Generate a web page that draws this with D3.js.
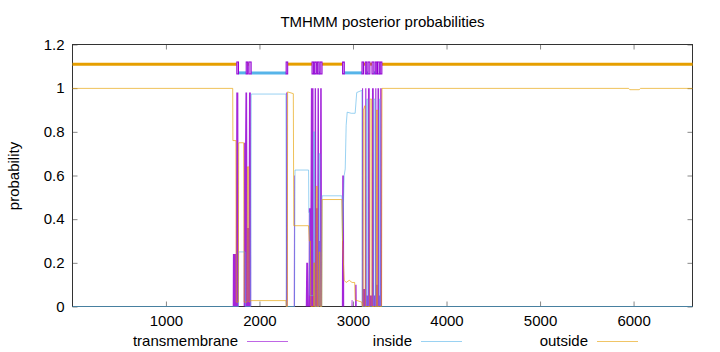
<!DOCTYPE html>
<html>
<head>
<meta charset="utf-8">
<script src="https://cdn.jsdelivr.net/npm/d3@7"></script>
<style>
body { margin: 0; background: #fff; }
svg { font-family: "Liberation Sans", Arial, sans-serif; }
</style>
</head>
<body>
<svg id="chart" width="720" height="352"></svg>
<script>
// Sequence length and ticks
const seqLength = 6630;
const xTicks = [1000, 2000, 3000, 4000, 5000, 6000];
const yTicks = [0, 0.2, 0.4, 0.6, 0.8, 1, 1.2];
const yTickLabels = ["0", "0.2", "0.4", "0.6", "0.8", "1", "1.2"];

// Posterior probabilities, read as breakpoints (residue, probability)
const tmPos = [1, 1714, 1716, 1748, 1752, 1774, 1778, 1831, 1836, 1846, 1850, 1868, 1872, 1884, 1888, 1908, 1912,
  2283, 2286, 2298, 2301, 2367, 2370, 2377, 2380, 2495, 2500, 2520, 2525, 2528, 2545, 2550, 2578, 2581, 2587, 2590,
  2605, 2608, 2618, 2621, 2636, 2639, 2646, 2649, 2666, 2669, 2881, 2885, 2903, 2906, 2984, 2986, 2994, 2996,
  3022, 3024, 3038, 3040, 3095, 3097, 3108, 3111, 3128, 3131, 3143, 3146, 3158, 3160, 3179, 3182, 3200, 3203,
  3222, 3225, 3236, 3238, 3250, 3253, 3260, 3262, 3279, 3282, 3289, 3291, 3307, 3310, 6630];
const tmVal = [0, 0, 0.24, 0.24, 0.98, 0.98, 0, 0, 0.75, 0.75, 0.98, 0.98, 0.36, 0.36, 0.98, 0.98, 0,
  0, 0.98, 0.98, 0, 0, 0.6, 0.6, 0, 0, 0.2, 0.2, 0, 0.45, 0.45, 1, 1, 0.2, 0.2, 1,
  1, 0.45, 0.45, 1, 1, 0.3, 0.3, 1, 1, 0, 0, 0.6, 0.6, 0, 0, 0.03, 0.03, 0,
  0, 0.1, 0.1, 0, 0, 1, 1, 0.08, 0.08, 1, 1, 0.05, 0.05, 1, 1, 0.05, 0.05, 1,
  1, 0.05, 0.05, 1, 1, 0.1, 0.1, 1, 1, 0.05, 0.05, 1, 1, 0, 0];

const inPos = [1, 1775, 1778, 1846, 1850, 1906, 1912, 2283, 2287, 2375, 2380, 2525, 2528, 2535, 2540, 2578, 2580,
  2588, 2591, 2636, 2638, 2646, 2649, 2666, 2670, 2881, 2888, 2906, 2917, 2927, 2938, 2981, 3023, 3040, 3095,
  3098, 3143, 3146, 3158, 3161, 3222, 3225, 3236, 3239, 3279, 3282, 3289, 3292, 6630];
const inVal = [0, 0, 0.25, 0.25, 0, 0, 0.973, 0.973, 0, 0, 0.625, 0.625, 0.43, 0.43, 0.05, 0.05, 0.8,
  0.8, 0, 0, 0.7, 0.7, 0, 0, 0.507, 0.507, 0.3, 0.6, 0.63, 0.83, 0.89, 0.885, 0.885, 0.98, 0.99,
  0, 0, 0.95, 0.95, 0, 0, 0.95, 0.95, 0, 0, 0.95, 0.95, 0, 0];

const outPos = [1, 1714, 1716, 1748, 1752, 1774, 1778, 1831, 1836, 1868, 1872, 1884, 1888, 1910, 2283, 2286, 2298,
  2301, 2362, 2367, 2525, 2533, 2545, 2550, 2578, 2582, 2587, 2590, 2605, 2608, 2618, 2621, 2636, 2640, 2646,
  2650, 2666, 2670, 2881, 2888, 2906, 2927, 2960, 2990, 3018, 3023, 3095, 3100, 3108, 3111, 3128, 3131, 3180,
  3183, 3200, 3203, 3250, 3253, 3260, 3263, 3306, 3310, 5947, 5960, 6060, 6075, 6630];
const outVal = [0.999, 0.999, 0.76, 0.76, 0.02, 0.02, 0.75, 0.75, 0.02, 0.02, 0.64, 0.64, 0.02, 0.027, 0.027, 0, 0,
  0.983, 0.975, 0.37, 0.37, 0.3, 0.3, 0, 0, 0.2, 0.2, 0, 0, 0.55, 0.55, 0, 0, 0.25, 0.25,
  0, 0, 0.49, 0.49, 0.3, 0.12, 0.11, 0.12, 0.11, 0.11, 0.03, 0.02, 0, 0, 0.9, 0.92, 0, 0,
  0.95, 0.95, 0, 0, 0.9, 0.9, 0, 0, 0.999, 0.999, 0.993, 0.993, 0.999, 0.999];

// Predicted topology (Viterbi path) drawn above the curves
const topoStart = [1, 1758, 1776, 1858, 1872, 1886, 1911, 2285, 2302, 2562, 2579, 2590, 2608, 2619, 2637, 2648,
  2669, 2889, 2907, 3096, 3110, 3131, 3145, 3160, 3181, 3203, 3224, 3238, 3252, 3262, 3281, 3291, 3309];
const topoEnd = [1757, 1775, 1857, 1871, 1885, 1910, 2284, 2301, 2561, 2578, 2589, 2607, 2618, 2636, 2647, 2668,
  2888, 2906, 3095, 3109, 3130, 3144, 3159, 3180, 3202, 3223, 3237, 3251, 3261, 3280, 3290, 3308, 6630];
const topoType = ["outside", "TM", "inside", "TM", "outside", "TM", "inside", "TM", "outside", "TM", "inside", "TM",
  "outside", "TM", "inside", "TM", "outside", "TM", "inside", "TM", "outside", "TM", "inside", "TM", "outside",
  "TM", "inside", "TM", "outside", "TM", "inside", "TM", "outside"];

const seriesNames = ["transmembrane", "inside", "outside"];
const colors = { transmembrane: "#9400d3", inside: "#56b4e9", outside: "#e69f00" };

// Layout
const plotLeft = 72.5, plotRight = 692.5, plotTop = 44.5, plotBottom = 306.5;
const fontSize = 15;
const svg = d3.select("#chart");

const x = d3.scaleLinear().domain([1, seqLength]).range([plotLeft, plotRight]);
const y = d3.scaleLinear().domain([0, 1.2]).range([plotBottom, plotTop]);

// Title and axis label
svg.append("text")
  .attr("x", (plotLeft + plotRight) / 2).attr("y", 27)
  .attr("text-anchor", "middle").attr("font-size", fontSize)
  .text("TMHMM posterior probabilities");

svg.append("text")
  .attr("transform", `translate(19,176) rotate(-90)`)
  .attr("text-anchor", "middle").attr("font-size", fontSize)
  .text("probability");

// Axes (ticks inside, mirrored)
svg.append("g").attr("transform", `translate(0,${plotBottom})`)
  .call(d3.axisBottom(x).tickValues(xTicks).tickFormat(d3.format("d")).tickSizeInner(-5).tickSizeOuter(0).tickPadding(9));
svg.append("g").attr("transform", `translate(0,${plotTop})`)
  .call(d3.axisTop(x).tickValues(xTicks).tickFormat("").tickSizeInner(-5).tickSizeOuter(0));
svg.append("g").attr("transform", `translate(${plotLeft},0)`)
  .call(d3.axisLeft(y).tickValues(yTicks).tickFormat((d, i) => yTickLabels[i]).tickSizeInner(-5).tickSizeOuter(0).tickPadding(8));
svg.append("g").attr("transform", `translate(${plotRight},0)`)
  .call(d3.axisRight(y).tickValues(yTicks).tickFormat("").tickSizeInner(-5).tickSizeOuter(0));

svg.selectAll(".domain").remove();
svg.selectAll(".tick line").attr("stroke", "#888");
svg.selectAll(".tick text").attr("font-size", fontSize).attr("font-family", "Liberation Sans, Arial, sans-serif").attr("fill", "#000");

svg.append("rect")
  .attr("x", plotLeft).attr("y", plotTop)
  .attr("width", plotRight - plotLeft).attr("height", plotBottom - plotTop)
  .attr("fill", "none").attr("stroke", "#333").attr("stroke-width", 1);

// Transmembrane impulses
const tmData = tmPos.map((p, i) => ({ p, v: tmVal[i] }));
svg.append("path")
  .datum(tmData)
  .attr("fill", colors.transmembrane)
  .attr("fill-opacity", 0.85)
  .attr("d", d3.area().x(d => x(d.p)).y0(y(0)).y1(d => y(d.v)));

// Inside and outside lines
const line = d3.line().x(d => x(d.p)).y(d => y(d.v));
svg.append("path")
  .datum(inPos.map((p, i) => ({ p, v: inVal[i] })))
  .attr("fill", "none").attr("stroke", colors.inside).attr("stroke-opacity", 0.6).attr("stroke-width", 1)
  .attr("d", line);
svg.append("path")
  .datum(outPos.map((p, i) => ({ p, v: outVal[i] })))
  .attr("fill", "none").attr("stroke", colors.outside).attr("stroke-opacity", 0.65).attr("stroke-width", 1)
  .attr("d", line);

// Topology annotation
const topo = topoStart.map((s, i) => ({ s, e: topoEnd[i], t: topoType[i] }));
svg.selectAll(".loop")
  .data(topo.filter(d => d.t !== "TM"))
  .enter().append("line")
  .attr("class", "loop")
  .attr("x1", d => x(d.s)).attr("x2", d => x(d.e + 1))
  .attr("y1", d => y(d.t === "outside" ? 1.11 : 1.07))
  .attr("y2", d => y(d.t === "outside" ? 1.11 : 1.07))
  .attr("stroke", d => colors[d.t]).attr("stroke-width", 3);

svg.selectAll(".tmbox")
  .data(topo.filter(d => d.t === "TM"))
  .enter().append("rect")
  .attr("class", "tmbox")
  .attr("x", d => x(d.s)).attr("width", d => Math.max(x(d.e + 1) - x(d.s), 1.5))
  .attr("y", y(1.12)).attr("height", y(1.065) - y(1.12))
  .attr("fill", "#d9a6f2").attr("stroke", colors.transmembrane).attr("stroke-width", 1);

// Legend
const legendTextEnd = [238, 412, 588];
const legend = svg.selectAll(".legend")
  .data(seriesNames)
  .enter().append("g")
  .attr("class", "legend")
  .attr("transform", (d, i) => `translate(${legendTextEnd[i]},341)`);
legend.append("text")
  .attr("text-anchor", "end").attr("dy", "0.35em").attr("font-size", fontSize)
  .text(d => d);
legend.append("line")
  .attr("x1", 9).attr("x2", 50).attr("y1", 0.5).attr("y2", 0.5)
  .attr("stroke", d => colors[d]).attr("stroke-opacity", 0.6).attr("stroke-width", 1);
</script>
</body>
</html>
